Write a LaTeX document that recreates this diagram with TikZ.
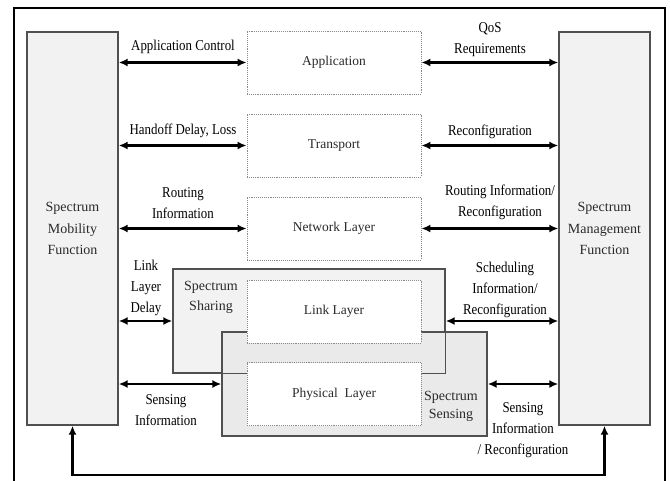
\documentclass[tikz,border=0pt]{standalone}
\usepackage{fontspec}
\setmainfont{Liberation Serif}
\newfontfamily\condfont{Liberation Serif}[FakeStretch=0.86]
\usetikzlibrary{arrows.meta}
\definecolor{boxline}{HTML}{505050}
\definecolor{boxfill}{HTML}{F2F2F2}
\definecolor{sensfill}{HTML}{EAEAEA}
\definecolor{dotline}{HTML}{8A8A8A}
\definecolor{softtext}{HTML}{2A2A2A}
\tikzset{
  sidebox/.style={draw=boxline, line width=1.4pt, fill=boxfill, minimum width=91pt, minimum height=393pt, inner sep=0pt, align=center, text=softtext, font=\fontsize{14}{21.5}\selectfont},
  layer/.style={draw=dotline, densely dotted, line width=0.9pt, fill=white, minimum width=174pt, minimum height=63pt, inner sep=0pt, text=softtext, font=\fontsize{13.5}{16}\selectfont},
  region/.style={draw=boxline, line width=1.4pt, inner sep=0pt},
  softlbl/.style={align=center, inner sep=0pt, text=softtext},
  lbl/.style={align=center, inner sep=0pt, font=\condfont\fontsize{15}{21}\selectfont},
  biarrow/.style={{Latex[length=9pt,width=8pt]}-{Latex[length=9pt,width=8pt]}, line width=2.1pt},
}
\begin{document}
\begin{tikzpicture}[x=1pt,y=-1pt]
\useasboundingbox (0,0) rectangle (670,480);
% outer frame
\draw[line width=2pt] (14,481) -- (14,8) -- (665,8) -- (665,481);
% regions
\node[region, fill=boxfill, minimum width=272pt, minimum height=104pt] (share) at (309,321) {};
\node[region, fill=sensfill, minimum width=265pt, minimum height=104pt] (sens) at (354.5,384) {};
\draw[boxline, line width=1.4pt] (share.north east) -- (share.south east) -- (share.south west);
% side boxes
\node[sidebox] (mob) at (72.5,228.5) {Spectrum\\Mobility\\Function};
\node[sidebox] (mgmt) at (604.5,228.5) {Spectrum\\Management\\Function};
% layers
\node[layer] (app) at (334,62.5) {Application};
\node[layer] (trans) at (334,145.5) {Transport};
\node[layer] (net) at (334,228.5) {Network Layer};
\node[layer] (link) at (334,311.5) {Link Layer};
\node[layer] (phy) at (334,394) {Physical~~Layer};
% region labels
\node[softlbl, font=\fontsize{14}{20}\selectfont] (sharelbl) at (211,297) {Spectrum\\Sharing};
\node[softlbl, font=\fontsize{14}{18}\selectfont] (senslbl) at (451,406) {Spectrum\\Sensing};
% arrows
\draw[biarrow] (mob.east |- app.west) -- (app.west);
\draw[biarrow] (app.east) -- (mgmt.west |- app.east);
\draw[biarrow] (mob.east |- trans.west) -- (trans.west);
\draw[biarrow] (trans.east) -- (mgmt.west |- trans.east);
\draw[biarrow] (mob.east |- net.west) -- (net.west);
\draw[biarrow] (net.east) -- (mgmt.west |- net.east);
\draw[biarrow] (mob.east |- share.west) -- (share.west);
\draw[biarrow] (share.east) -- (mgmt.west |- share.east);
\draw[biarrow] (mob.east |- sens.west) -- (sens.west);
\draw[biarrow] (sens.east) -- (mgmt.west |- sens.east);
\coordinate (bl) at (mob.south |- 0,475);
\coordinate (br) at (mgmt.south |- 0,475);
\draw[biarrow] (mob.south) -- (bl) -- (br) -- (mgmt.south);
% arrow labels
\node[lbl] (l1) at (183,47) {Application Control};
\node[lbl] (r1) at (490,40) {QoS\\Requirements};
\node[lbl] (l2) at (183,131) {Handoff Delay, Loss};
\node[lbl] (r2) at (490,132) {Reconfiguration};
\node[lbl] (l3) at (183,203) {Routing\\Information};
\node[lbl] (r3) at (500,202.5) {Routing Information/\\Reconfiguration};
\node[lbl] (l4) at (146,288) {Link\\Layer\\Delay};
\node[lbl] (r4) at (505,289.5) {Scheduling\\Information/\\Reconfiguration};
\node[lbl] (l5) at (166,410.5) {Sensing\\Information};
\node[lbl] (r5) at (523,430.5) {Sensing\\Information\\/ Reconfiguration};
\end{tikzpicture}
\end{document}
